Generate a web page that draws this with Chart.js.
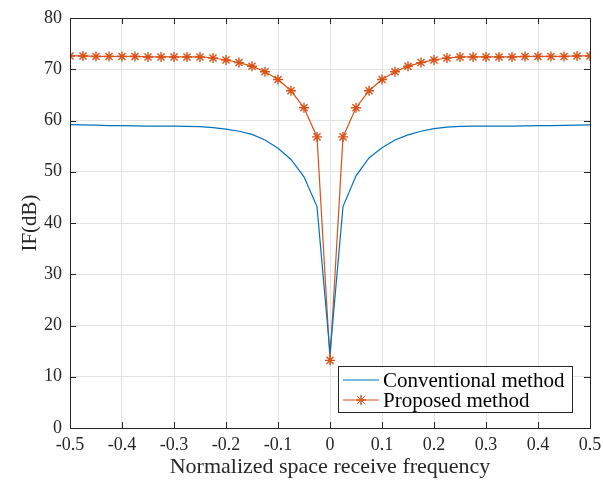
<!DOCTYPE html>
<html>
<head>
<meta charset="utf-8">
<script src="https://cdn.jsdelivr.net/npm/chart.js@4"></script>
<style>
  html, body { margin: 0; padding: 0; background: #fff; }
  #wrap { width: 603px; height: 481px; }
</style>
</head>
<body>
<div id="wrap"><canvas id="ifChart" width="603" height="481"></canvas></div>
<script>
// normalized space receive frequency, one point per 0.025
var freq = [-0.5, -0.475, -0.45, -0.425, -0.4, -0.375, -0.35, -0.325, -0.3, -0.275,
            -0.25, -0.225, -0.2, -0.175, -0.15, -0.125, -0.1, -0.075, -0.05, -0.025,
            0,
            0.025, 0.05, 0.075, 0.1, 0.125, 0.15, 0.175, 0.2, 0.225, 0.25,
            0.275, 0.3, 0.325, 0.35, 0.375, 0.4, 0.425, 0.45, 0.475, 0.5]

var conventional = [59.2, 59.15, 59.1, 59.0, 59.0, 58.95, 58.9, 58.9, 58.9, 58.85,
                    58.8, 58.6, 58.3, 57.9, 57.3, 56.2, 54.6, 52.4, 49.0, 43.2,
                    14.6,
                    43.2, 49.2, 52.7, 54.7, 56.2, 57.2, 57.9, 58.4, 58.7, 58.85,
                    58.9, 58.9, 58.9, 58.9, 58.95, 59.0, 59.0, 59.05, 59.1, 59.15]

var proposed = [72.6, 72.6, 72.5, 72.5, 72.5, 72.5, 72.4, 72.4, 72.4, 72.4,
                72.4, 72.2, 71.8, 71.3, 70.6, 69.5, 68.0, 65.8, 62.5, 56.8,
                13.2,
                56.8, 62.5, 65.8, 68.0, 69.5, 70.6, 71.3, 71.8, 72.2, 72.4,
                72.4, 72.4, 72.4, 72.4, 72.5, 72.5, 72.5, 72.5, 72.6, 72.6]

var seriesNames = ['Conventional method', 'Proposed method']
var xTitle = 'Normalized space receive frequency'
var yTitle = 'IF(dB)'

var serif = "'Liberation Serif', 'Times New Roman', serif"
var textCol = '#262626'

function pts(ys) {
    var out = []
    for (var i = 0; i < freq.length; i++) out.push({ x: freq[i], y: ys[i] })
    return out
}

// box round the axes + inward ticks on all four sides (matlab style)
var boxPlugin = {
    id: 'box',
    afterDraw: function(chart) {
        var ctx = chart.ctx, a = chart.chartArea
        var xs = chart.scales.x, ys = chart.scales.y
        var len = 6
        ctx.save()
        ctx.strokeStyle = textCol
        ctx.lineWidth = 1
        ctx.beginPath()
        xs.ticks.forEach(function(t) {
            var px = Math.round(xs.getPixelForValue(t.value)) + 0.5
            ctx.moveTo(px, a.bottom); ctx.lineTo(px, a.bottom - len)
            ctx.moveTo(px, a.top); ctx.lineTo(px, a.top + len)
        })
        ys.ticks.forEach(function(t) {
            var py = Math.round(ys.getPixelForValue(t.value)) + 0.5
            ctx.moveTo(a.left, py); ctx.lineTo(a.left + len, py)
            ctx.moveTo(a.right, py); ctx.lineTo(a.right - len, py)
        })
        ctx.stroke()
        ctx.strokeRect(Math.round(a.left) + 0.5, Math.round(a.top) + 0.5,
                       Math.round(a.right - a.left), Math.round(a.bottom - a.top))
        ctx.restore()
    }
}

// legend drawn inside the plot, bottom right
var legendPlugin = {
    id: 'insideLegend',
    afterDraw: function(chart) {
        var ctx = chart.ctx, a = chart.chartArea
        var w = 234, h = 46
        var x0 = a.right - 18 - w, y0 = a.bottom - 16 - h
        ctx.save()
        ctx.fillStyle = '#fff'
        ctx.fillRect(x0, y0, w, h)
        ctx.strokeStyle = textCol
        ctx.lineWidth = 1
        ctx.strokeRect(Math.round(x0) + 0.5, Math.round(y0) + 0.5, w, h)
        ctx.font = '21px ' + serif
        ctx.textBaseline = 'middle'
        ctx.fillStyle = '#000'
        chart.data.datasets.forEach(function(ds, i) {
            var cy = y0 + 14 + i * 20
            ctx.strokeStyle = ds.borderColor
            ctx.lineWidth = 1
            ctx.beginPath()
            ctx.moveTo(x0 + 5, cy); ctx.lineTo(x0 + 41, cy)
            ctx.stroke()
            if (ds.pointStyle) {
                Chart.helpers.drawPoint(ctx, { pointStyle: ds.pointStyle, radius: ds.pointRadius, borderWidth: 1 }, x0 + 23, cy)
                ctx.stroke()
            }
            ctx.fillStyle = '#000'
            ctx.fillText(ds.label, x0 + 45, cy + 1)
        })
        ctx.restore()
    }
}

new Chart(document.getElementById('ifChart'), {
    type: 'line',
    data: {
        datasets: [{
            label: seriesNames[0],
            data: pts(conventional),
            borderColor: '#0072BD',
            borderWidth: 1.2,
            pointRadius: 0,
            fill: false,
            tension: 0
        }, {
            label: seriesNames[1],
            data: pts(proposed),
            borderColor: '#D95319',
            backgroundColor: '#D95319',
            borderWidth: 1.2,
            pointStyle: 'star',
            pointRadius: 5,
            pointBorderWidth: 1.4,
            fill: false,
            tension: 0
        }]
    },
    options: {
        responsive: false,
        animation: false,
        devicePixelRatio: 1,
        layout: { padding: { top: 18, right: 13, left: 0, bottom: 0 } },
        plugins: {
            legend: { display: false },
            tooltip: { enabled: false }
        },
        scales: {
            x: {
                type: 'linear',
                min: -0.5, max: 0.5,
                afterFit: function(s) { s.height = 53; s.paddingRight = 0; s.paddingLeft = 0 },
                ticks: {
                    stepSize: 0.1,
                    padding: 6,
                    color: textCol,
                    font: { family: serif, size: 18 },
                    callback: function(v) { return Math.abs(v) < 1e-9 ? '0' : v.toFixed(1) }
                },
                grid: { color: '#e3e3e3', drawTicks: false },
                border: { display: false },
                title: {
                    display: true, text: xTitle, color: textCol,
                    font: { family: serif, size: 22 },
                    padding: { top: 0, bottom: 1 }
                }
            },
            y: {
                min: 0, max: 80,
                afterFit: function(s) { s.width = 70; s.paddingTop = 0; s.paddingBottom = 0 },
                ticks: {
                    stepSize: 10,
                    padding: 8,
                    color: textCol,
                    font: { family: serif, size: 18 }
                },
                grid: { color: '#e3e3e3', drawTicks: false },
                border: { display: false },
                title: {
                    display: true, text: yTitle, color: textCol,
                    font: { family: serif, size: 21 },
                    padding: { top: 18, bottom: 0 }
                }
            }
        }
    },
    plugins: [boxPlugin, legendPlugin]
})
</script>
</body>
</html>
